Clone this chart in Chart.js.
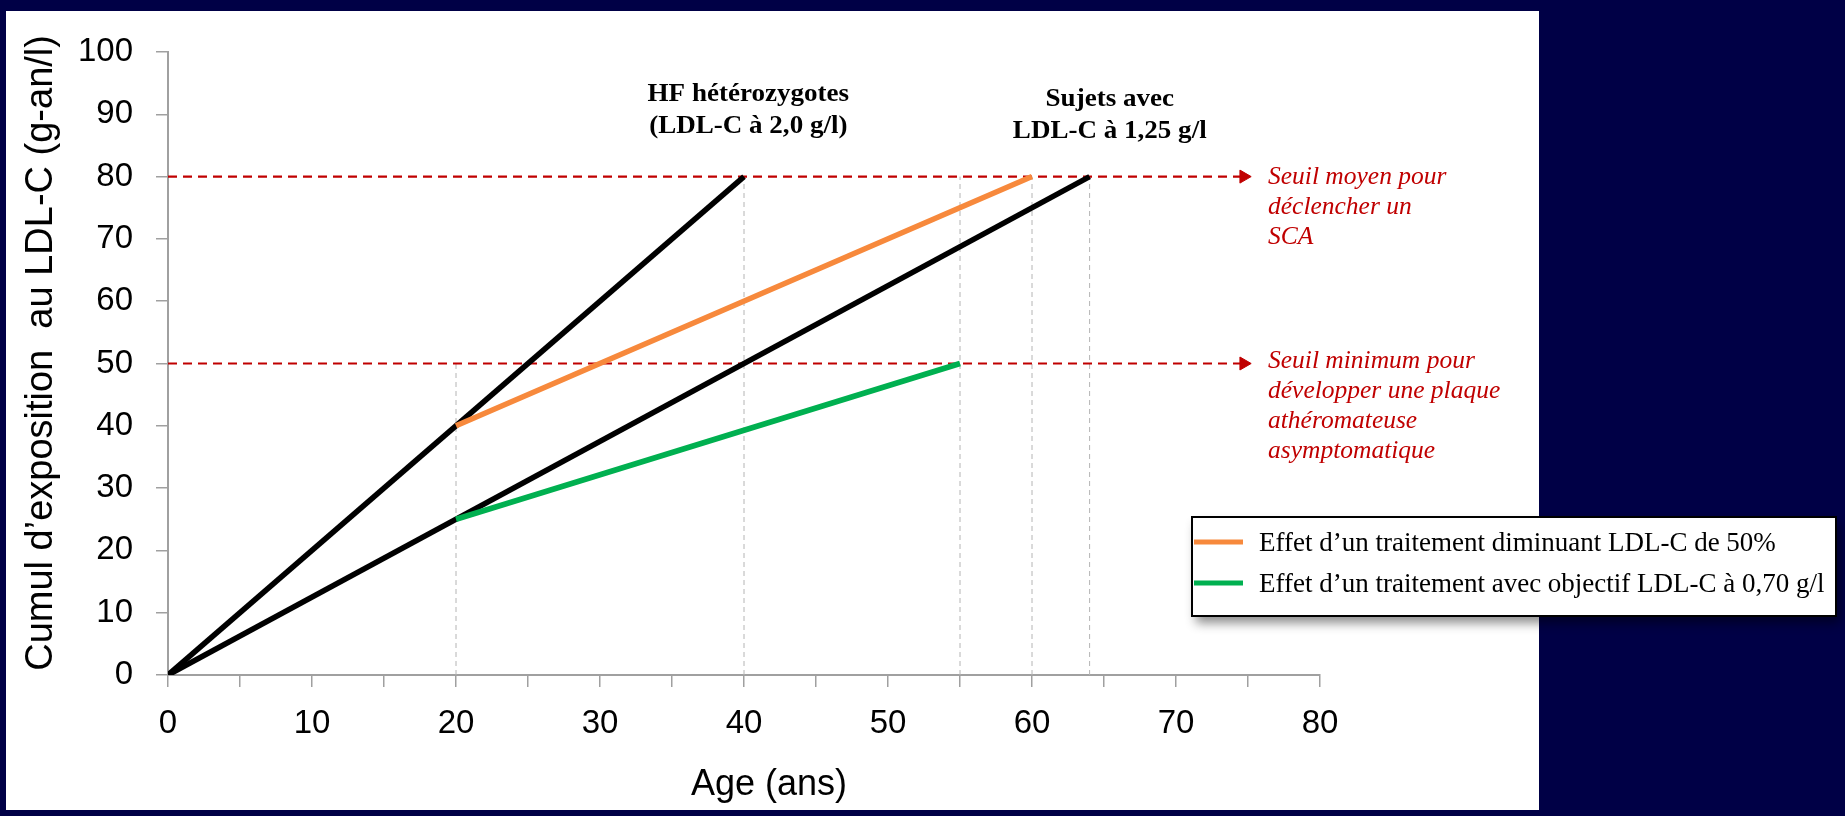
<!DOCTYPE html>
<html>
<head>
<meta charset="utf-8">
<script src="https://cdn.jsdelivr.net/npm/chart.js@4.4.1/dist/chart.umd.min.js"></script>
<style>
html,body{margin:0;padding:0;background:#000046;overflow:hidden}
#wrap{width:1845px;height:816px;position:relative}
canvas{display:block}
</style>
</head>
<body>
<div id="wrap"><canvas id="c" width="1845" height="816"></canvas></div>
<script>
// ---- data ----
const hfAges = [0, 40];
const hfExposure = [0, 80];
const sujetsAges = [0, 64];
const sujetsExposure = [0, 80];
const treat50Ages = [20, 60];
const treat50Exposure = [40, 80];
const treatTargetAges = [20, 55];
const treatTargetExposure = [25, 50];
const thresholdValues = [80, 50];
const thresholdAgeRange = [0, 74.7];
const guideAges = [20, 40, 55, 60, 64];
const guideTops = [50, 80, 80, 80, 80];
const xTickLabels = [0, 10, 20, 30, 40, 50, 60, 70, 80];
const xMinorStep = 5;
const yTickLabels = [0, 10, 20, 30, 40, 50, 60, 70, 80, 90, 100];
const legendLabels = ["Effet d\u2019un traitement diminuant LDL-C de 50%", "Effet d\u2019un traitement avec objectif LDL-C \u00e0 0,70 g/l"];
const hfText = ["HF h\u00e9t\u00e9rozygotes", "(LDL-C \u00e0 2,0 g/l)"];
const sujetsText = ["Sujets avec", "LDL-C \u00e0 1,25 g/l"];
const seuilMoyenText = ["Seuil moyen pour", "d\u00e9clencher un", "SCA"];
const seuilMinText = ["Seuil minimum pour", "d\u00e9velopper une plaque", "ath\u00e9romateuse", "asymptomatique"];
const xTitle = "Age (ans)";
const yTitle = "Cumul d\u2019exposition  au LDL-C (g-an/l)";

const pts = (xs, ys) => xs.map((x, i) => ({x: x, y: ys[i]}));

const RED = '#c00000', ORANGE = '#f7893c', GREEN = '#00b050';

const datasets = [];
datasets.push({label: legendLabels[1], inLegend: true, data: pts(treatTargetAges, treatTargetExposure),
  showLine: true, borderColor: GREEN, borderWidth: 5.5, pointRadius: 0, borderCapStyle: 'butt'});
datasets.push({label: legendLabels[0], inLegend: true, data: pts(treat50Ages, treat50Exposure),
  showLine: true, borderColor: ORANGE, borderWidth: 5.5, pointRadius: 0, borderCapStyle: 'butt'});
datasets.push({label: 'HF', data: pts(hfAges, hfExposure),
  showLine: true, borderColor: '#000', borderWidth: 5.5, pointRadius: 0, borderCapStyle: 'butt'});
datasets.push({label: 'Sujets', data: pts(sujetsAges, sujetsExposure),
  showLine: true, borderColor: '#000', borderWidth: 5.5, pointRadius: 0, borderCapStyle: 'butt'});
thresholdValues.forEach(v => {
  datasets.push({label: 'seuil ' + v, data: pts(thresholdAgeRange, thresholdAgeRange.map(() => v)),
    showLine: true, borderColor: RED, borderWidth: 2.2, borderDash: [9, 6],
    pointRadius: [0, 7.5], pointStyle: 'triangle', pointRotation: 90,
    pointBackgroundColor: RED, pointBorderColor: RED, pointBorderWidth: 1});
});
guideAges.forEach((a, i) => {
  datasets.push({label: 'guide ' + a, data: pts([a, a], [0, guideTops[i]]),
    showLine: true, borderColor: '#b4b4b4', borderWidth: 1, borderDash: [5, 4], pointRadius: 0});
});

const NAVY = '#000046';

const decor = {
  id: 'decor',
  beforeDraw(chart) {
    const ctx = chart.ctx;
    ctx.save();
    ctx.fillStyle = NAVY;
    ctx.fillRect(0, 0, chart.width, chart.height);
    ctx.fillStyle = '#ffffff';
    ctx.fillRect(6, 11, 1533, 799);
    ctx.restore();
  },
  afterDraw(chart) {
    const ctx = chart.ctx;
    const X = chart.scales.x;
    const txt = (s, x, y, font, color, align, sx) => {
      ctx.save();
      ctx.font = font; ctx.fillStyle = color; ctx.textAlign = align; ctx.textBaseline = 'alphabetic';
      ctx.translate(x, y); ctx.scale(sx || 1, 1); ctx.fillText(s, 0, 0);
      ctx.restore();
    };
    // bold series labels
    const boldFont = 'bold 26px "Liberation Serif", "Times New Roman", serif';
    const hfX = X.getPixelForValue(40.3);
    txt(hfText[0], hfX, 101, boldFont, '#000', 'center', 1.04);
    txt(hfText[1], hfX, 133, boldFont, '#000', 'center', 1.04);
    const sjX = X.getPixelForValue(65.4);
    txt(sujetsText[0], sjX, 106, boldFont, '#000', 'center', 1.04);
    txt(sujetsText[1], sjX, 138, boldFont, '#000', 'center', 1.04);
    // red threshold notes
    const itFont = 'italic 25.5px "Liberation Serif", "Times New Roman", serif';
    const noteX = 1268;
    [184, 214, 244].forEach((b, i) => txt(seuilMoyenText[i], noteX, b, itFont, RED, 'left'));
    [368, 398, 428, 458].forEach((b, i) => txt(seuilMinText[i], noteX, b, itFont, RED, 'left'));
    // legend box
    const bx = 1192, by = 517, bw = 644, bh = 99;
    ctx.save();
    ctx.shadowColor = 'rgba(0,0,0,0.45)';
    ctx.shadowBlur = 10; ctx.shadowOffsetX = 4; ctx.shadowOffsetY = 7;
    ctx.fillStyle = '#fff';
    ctx.fillRect(bx, by, bw, bh);
    ctx.restore();
    ctx.save();
    ctx.strokeStyle = '#000'; ctx.lineWidth = 2;
    ctx.strokeRect(bx, by, bw, bh);
    ctx.restore();
    const items = chart.data.datasets.filter(d => d.inLegend);
    const rows = [542, 583];
    legendLabels.forEach((lab, i) => {
      const d = items.find(it => it.label === lab);
      ctx.save();
      ctx.strokeStyle = d.borderColor; ctx.lineWidth = 5; ctx.lineCap = 'butt';
      ctx.beginPath(); ctx.moveTo(bx + 2, rows[i]); ctx.lineTo(bx + 51, rows[i]); ctx.stroke();
      ctx.restore();
      txt(lab, 1259, rows[i] + 9, '27px "Liberation Serif", "Times New Roman", serif', '#000', 'left');
    });
  }
};

new Chart(document.getElementById('c'), {
  type: 'scatter',
  data: {datasets: datasets},
  options: {
    responsive: false,
    devicePixelRatio: 1,
    animation: false,
    events: [],
    layout: {padding: {left: 0, top: 52, right: 525, bottom: 0}},
    plugins: {legend: {display: false}, tooltip: {enabled: false}},
    scales: {
      x: {
        type: 'linear', min: xTickLabels[0], max: xTickLabels[xTickLabels.length - 1],
        afterFit: s => { s.height = 141; },
        ticks: {stepSize: xMinorStep, autoSkip: false, maxRotation: 0, padding: 17,
          color: '#000', font: {family: '"Liberation Sans", Arial, sans-serif', size: 33},
          callback: v => xTickLabels.includes(v) ? String(v) : ''},
        grid: {drawOnChartArea: false, drawTicks: true, tickLength: 12, color: '#a0a0a0', lineWidth: 1.5},
        border: {color: '#a0a0a0', width: 2},
        title: {display: true, text: '\u00a0\u00a0\u00a0\u00a0\u00a0' + xTitle, color: '#000',
          font: {family: '"Liberation Sans", Arial, sans-serif', size: 36}, padding: {top: 0, bottom: 9}}
      },
      y: {
        type: 'linear', min: yTickLabels[0], max: yTickLabels[yTickLabels.length - 1],
        afterFit: s => { s.width = 168; },
        ticks: {stepSize: yTickLabels[1] - yTickLabels[0], padding: 23, color: '#000',
          font: {family: '"Liberation Sans", Arial, sans-serif', size: 33},
          callback: v => yTickLabels.includes(v) ? String(v) : ''},
        grid: {drawOnChartArea: false, drawTicks: true, tickLength: 12, color: '#a0a0a0', lineWidth: 1.5},
        border: {color: '#a0a0a0', width: 2},
        title: {display: true, text: '\u00a0\u00a0' + yTitle, color: '#000',
          font: {family: '"Liberation Sans", Arial, sans-serif', size: 38}, padding: {top: 19, bottom: 0}}
      }
    }
  },
  plugins: [decor]
});
</script>
</body>
</html>
